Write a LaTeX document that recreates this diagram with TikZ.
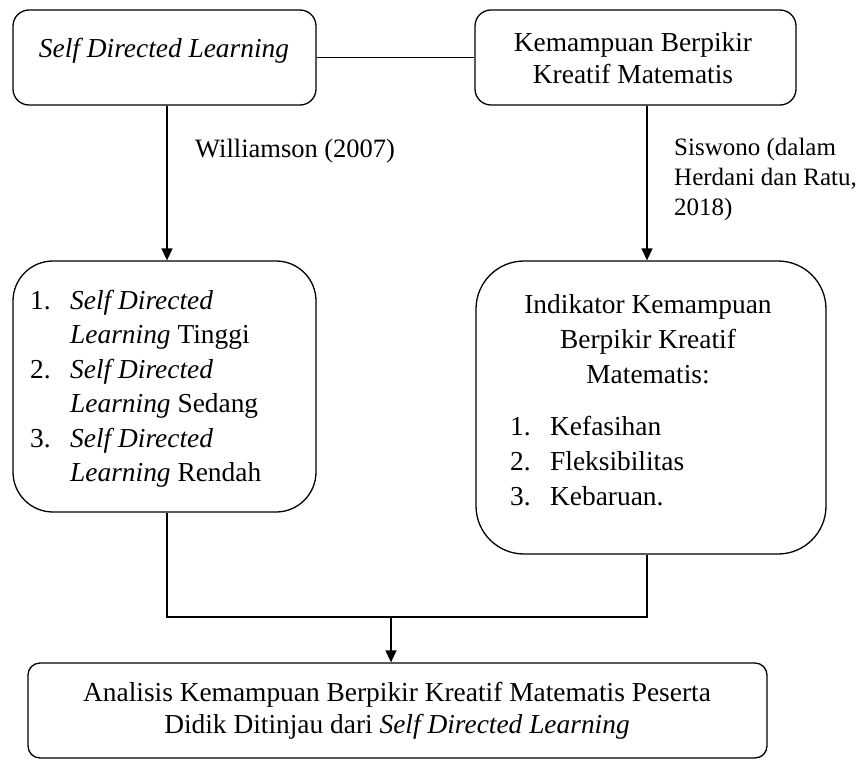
\documentclass[tikz,border=0pt]{standalone}
\usepackage{fontspec}
\setmainfont{Liberation Serif}
\usetikzlibrary{arrows.meta}
\begin{document}
\begin{tikzpicture}[x=1pt,y=-1pt,
  box/.style={draw, line width=1.3pt, inner sep=0pt},
  txt/.style={inner sep=0pt, font=\fontsize{27.4}{32}\selectfont},
  arr/.style={line width=1.3pt, -{Triangle[length=12pt,width=11pt]}},
  ln/.style={line width=1.3pt}]
\useasboundingbox (0,0) rectangle (866,760);
% boxes
\node[box, rounded corners=16pt, minimum width=303pt, minimum height=95pt] (sdl) at (164.5,57.5) {};
\node[txt] (sdlt) at (164,51) {\itshape Self Directed Learning};
\node[box, rounded corners=16pt, minimum width=321pt, minimum height=95pt] (kbk) at (635.5,57.5) {};
\node[txt, align=center] (kbkt) at (633,58) {Kemampuan Berpikir\\Kreatif Matematis};
\node[box, rounded corners=40pt, minimum width=303pt, minimum height=251pt] (lvl) at (164.5,386.5) {};
\node[txt, align=left, anchor=west, font=\fontsize{27.4}{34.5}\selectfont] (lvlt) at (30,389) {%
\makebox[40pt][l]{1.}\textit{Self Directed}\\
\hspace*{40pt}\textit{Learning} Tinggi\\
\makebox[40pt][l]{2.}\textit{Self Directed}\\
\hspace*{40pt}\textit{Learning} Sedang\\
\makebox[40pt][l]{3.}\textit{Self Directed}\\
\hspace*{40pt}\textit{Learning} Rendah};
\node[box, rounded corners=48pt, minimum width=350pt, minimum height=293pt] (ind) at (651,407.5) {};
\node[txt, align=center, font=\fontsize{27.4}{35}\selectfont] (indh) at (648,339) {Indikator Kemampuan\\Berpikir Kreatif\\Matematis:};
\node[txt, align=left, anchor=west, font=\fontsize{27.4}{35}\selectfont] (indl) at (510,461) {%
\makebox[40pt][l]{1.}Kefasihan\\
\makebox[40pt][l]{2.}Fleksibilitas\\
\makebox[40pt][l]{3.}Kebaruan.};
\node[box, rounded corners=12pt, minimum width=739pt, minimum height=95pt] (ana) at (397.5,710.5) {};
\node[txt, align=center] (anat) at (397,711) {Analisis Kemampuan Berpikir Kreatif Matematis Peserta\\Didik Ditinjau dari \textit{Self Directed Learning}};
% labels
\node[txt, anchor=west, font=\fontsize{26.5}{30}\selectfont] (wil) at (195,151) {Williamson (2007)};
\node[txt, anchor=west, align=left, font=\fontsize{25}{30}\selectfont] (sis) at (674,179) {Siswono (dalam\\Herdani dan Ratu,\\2018)};
% connectors
\coordinate (c1) at (167,0);
\coordinate (c2) at (647,0);
\coordinate (j) at (391,617);
\draw[ln] (sdl.east) -- (kbk.west);
\draw[arr] (sdl.south -| c1) -- (lvl.north -| c1);
\draw[arr] (kbk.south -| c2) -- (ind.north -| c2);
\draw[ln] (lvl.south -| c1) |- (j) -| (ind.south -| c2);
\draw[arr] (j) -- (ana.north -| j);
\end{tikzpicture}
\end{document}
